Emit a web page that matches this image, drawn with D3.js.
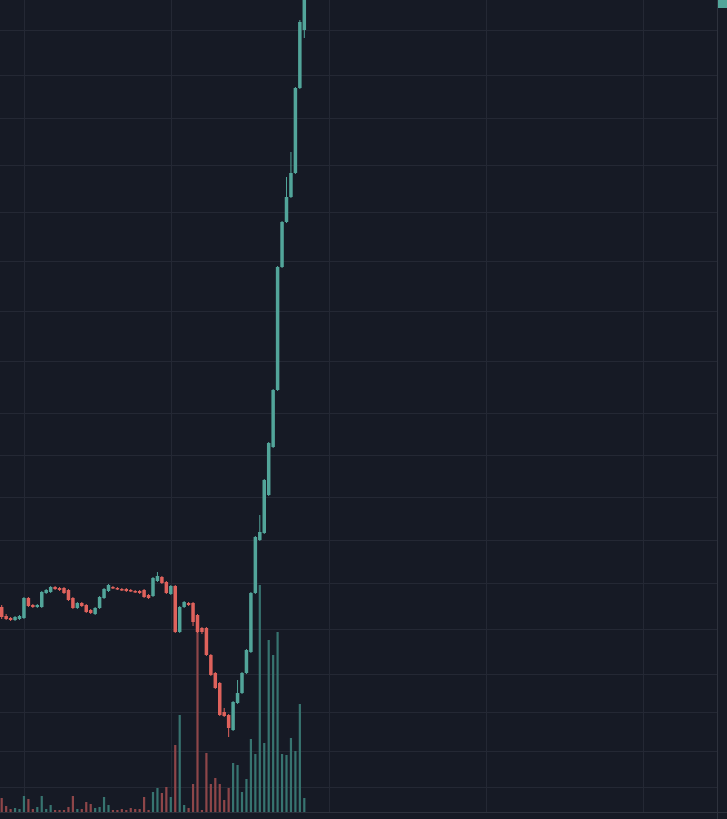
<!DOCTYPE html>
<html>
<head>
<meta charset="utf-8">
<script src="https://cdn.jsdelivr.net/npm/d3@7"></script>
<style>
html,body{margin:0;padding:0;background:#161a25;}
svg{display:block;}
</style>
</head>
<body>
<svg id="chart" width="727" height="819"></svg>
<script>
// ---- data (bar index, OHLC, volume) ----
const opens  = [10.25,9.8,9.7,9.6,9.65,9.7,10.7,10.35,10.25,10.25,10.95,11.0,11.25,11.2,11.2,11.1,10.7,10.2,10.45,10.35,10.1,9.9,10.2,10.7,11.05,11.25,11.2,11.15,11.15,11.1,11.05,11.05,11.1,10.85,10.8,11.55,11.75,11.5,10.9,11.3,9.0,10.25,10.45,10.45,9.85,9.2,9.2,7.85,6.95,6.45,5.0,4.85,4.1,5.45,5.95,6.95,8.0,10.95,13.6,13.95,15.85,18.25,21.1,27.25,29.5,30.75,31.95,36.2,39.1];
const highs  = [10.35,9.9,9.75,9.8,9.85,10.75,10.75,10.4,10.4,11.05,11.15,11.3,11.3,11.25,11.25,11.15,10.75,10.5,10.5,10.4,10.15,10.25,10.8,11.2,11.4,11.3,11.25,11.2,11.2,11.15,11.1,11.1,11.15,10.9,11.75,12.0,11.8,11.55,11.35,11.35,10.3,10.55,10.5,10.5,9.9,9.25,9.25,7.9,7.0,6.5,5.2,4.9,5.55,6.6,7.0,8.15,11.0,13.8,14.85,16.65,18.5,21.15,27.3,29.55,31.75,33.0,36.25,39.6,41.35];
const lows   = [9.65,9.6,9.55,9.55,9.6,9.65,10.25,10.2,10.2,10.2,10.9,10.95,11.1,11.05,10.9,10.55,10.15,10.15,10.25,9.95,9.9,9.85,10.15,10.65,11.0,11.15,11.1,11.05,11.0,11.0,10.95,10.9,10.7,10.65,10.75,11.5,11.4,10.9,10.85,8.95,8.95,10.2,10.3,9.3,8.95,8.9,7.8,6.8,6.15,4.8,4.75,3.75,4.05,5.4,5.9,6.9,7.95,10.9,13.55,13.9,15.8,18.2,21.05,27.2,29.45,30.7,31.9,36.15,38.7];
const closes = [9.75,9.65,9.6,9.75,9.8,10.7,10.3,10.25,10.35,11.0,11.1,11.25,11.15,11.1,10.95,10.6,10.2,10.45,10.3,10.0,9.95,10.2,10.75,11.15,11.35,11.2,11.15,11.1,11.05,11.05,11.0,10.95,10.75,10.7,11.7,11.8,11.45,10.95,11.3,9.0,10.25,10.5,10.35,9.5,9.0,9.0,7.85,6.85,6.2,4.85,4.8,4.2,5.5,5.95,6.95,8.1,10.95,13.75,14.0,16.6,18.45,21.1,27.25,29.5,30.75,31.95,36.2,39.5,41.35];
const volumes = [1.4,0.6,0.3,0.4,0.3,1.6,1.3,0.3,0.5,1.6,0.3,0.7,0.2,0.2,0.2,0.5,1.6,0.3,0.3,1.0,0.8,0.4,0.5,1.5,0.7,0.2,0.2,0.3,0.2,0.4,0.3,0.3,1.5,0.2,2.0,2.4,1.9,2.5,1.5,6.7,9.7,0.7,0.4,2.8,18.0,0.2,5.9,2.8,3.4,2.8,1.2,2.4,4.9,4.7,2.0,3.3,7.3,5.8,22.7,6.9,17.2,15.7,18.0,5.8,5.7,7.4,6.1,10.8,1.4];
// grid levels (price) and time grid (bar index)
const priceGrid = [39.1,36.85,34.7,32.35,30.0,27.55,25.05,22.55,19.95,17.85,15.75,13.6,11.45,9.15,6.9,5.0,3.05,1.25];
const timeGrid = [5.0,38.04,73.55,108.83,144.11];
const lastPrice = 41.35;

const W = 727, H = 819;
const plotRight = 717, plotBottom = 812;
const colors = {bg:"#161a25", grid:"#242834", border:"#2e323d", up:"#52a59a", down:"#df625c", upVol:"#377470", downVol:"#8e4649"};

const svg = d3.select("#chart");
svg.append("rect").attr("width",W).attr("height",H).attr("fill",colors.bg);

const x = d3.scaleLinear().domain([0,160]).range([1.7, 1.7+4.45*160]);
const y = d3.scaleLinear().domain([0,40.6]).range([plotBottom,0]);
const yv = d3.scaleLinear().domain([0,25]).range([plotBottom,plotBottom-250]);

const defs = svg.append("defs");
defs.append("clipPath").attr("id","plot").append("rect").attr("x",0).attr("y",0).attr("width",plotRight).attr("height",plotBottom);

// grid
const g = svg.append("g");
g.selectAll(".hg").data(priceGrid).join("line")
  .attr("x1",0).attr("x2",plotRight)
  .attr("y1",d=>Math.round(y(d))+0.5).attr("y2",d=>Math.round(y(d))+0.5)
  .attr("stroke",colors.grid).attr("stroke-width",1);
g.selectAll(".vg").data(timeGrid).join("line")
  .attr("y1",0).attr("y2",plotBottom)
  .attr("x1",d=>Math.round(x(d))+0.5).attr("x2",d=>Math.round(x(d))+0.5)
  .attr("stroke",colors.grid).attr("stroke-width",1);

// borders
svg.append("line").attr("x1",plotRight+0.5).attr("x2",plotRight+0.5).attr("y1",0).attr("y2",H).attr("stroke",colors.border);
svg.append("line").attr("x1",0).attr("x2",W).attr("y1",plotBottom+0.5).attr("y2",plotBottom+0.5).attr("stroke",colors.border);

const bars = d3.range(opens.length).map(i=>({i,o:opens[i],h:highs[i],l:lows[i],c:closes[i],v:volumes[i],up:closes[i]>=opens[i]}));

const plot = svg.append("g").attr("clip-path","url(#plot)");

// volume
plot.selectAll(".vol").data(bars).join("rect")
  .attr("x",d=>x(d.i)-1.1).attr("width",2.2)
  .attr("y",d=>yv(d.v)).attr("height",d=>plotBottom-yv(d.v))
  .attr("fill",d=>d.up?colors.upVol:colors.downVol);

// wicks
plot.selectAll(".wick").data(bars).join("line")
  .attr("x1",d=>x(d.i)).attr("x2",d=>x(d.i))
  .attr("y1",d=>y(d.h)).attr("y2",d=>y(d.l))
  .attr("stroke",d=>d.up?colors.up:colors.down).attr("stroke-width",1);

// bodies
plot.selectAll(".body").data(bars).join("rect")
  .attr("x",d=>x(d.i)-1.75).attr("width",3.5)
  .attr("y",d=>y(Math.max(d.o,d.c)))
  .attr("height",d=>Math.max(1.5,Math.abs(y(d.o)-y(d.c))))
  .attr("fill",d=>d.up?colors.up:colors.down);

// last price marker on the scale (label clipped at the top edge)
const markerY = Math.max(0, y(lastPrice));
svg.append("rect").attr("x",plotRight+1).attr("width",W-plotRight-1)
  .attr("y",markerY).attr("height",8)
  .attr("fill",colors.up);
</script>
</body>
</html>
